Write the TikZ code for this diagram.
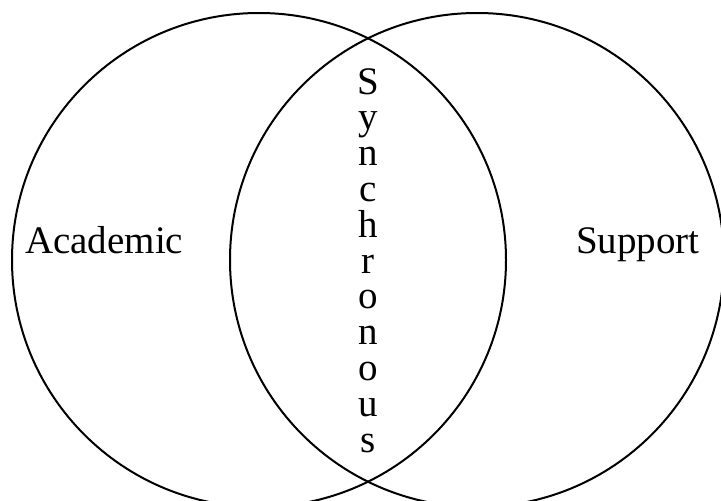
\documentclass[tikz,border=0pt]{standalone}
\usepackage{fontspec}
\setmainfont{Liberation Serif}
\begin{document}
\begin{tikzpicture}[x=1pt,y=-1pt,
  ring/.style={draw=black,line width=2pt},
  lbl/.style={font=\fontsize{39}{39}\selectfont,inner sep=0pt,anchor=base west},
  letter/.style={font=\fontsize{39}{39}\selectfont,inner sep=0pt,anchor=base}]
\useasboundingbox (0,0) rectangle (721,501);
\clip (0,0) rectangle (721,501);
\draw[ring] (259,260) circle[radius=247];
\draw[ring] (477,260) circle[radius=247];
\node[lbl] (academic) at (25,253) {Academic};
\node[lbl] (support) at (576,253) {Support};
\foreach \ch [count=\i] in {S,y,n,c,h,r,o,n,o,u,s}{
  \node[letter] (syn\i) at (368,{94+35.8*(\i-1)}) {\ch};
}
\end{tikzpicture}
\end{document}
